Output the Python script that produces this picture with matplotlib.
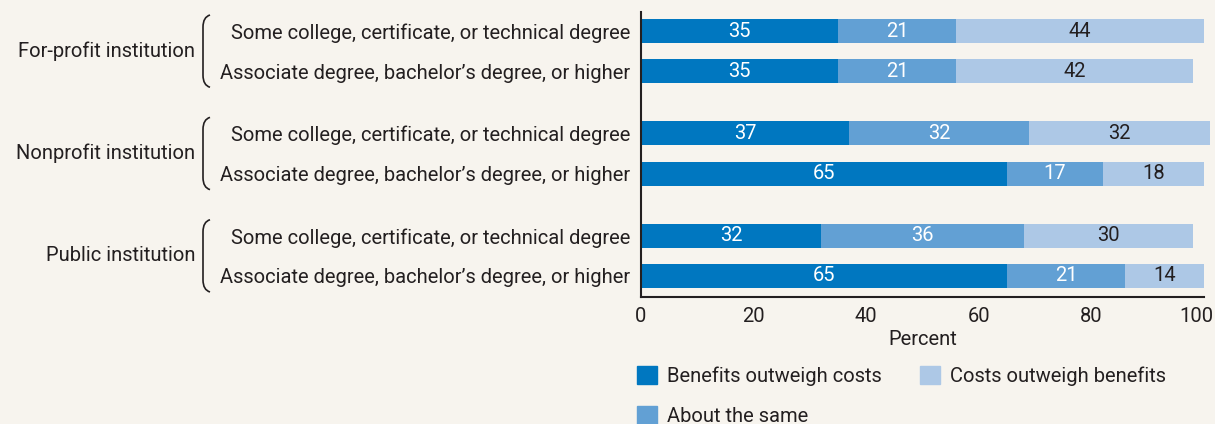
import matplotlib.pyplot as plt
from matplotlib.patches import Patch, PathPatch
from matplotlib.path import Path
from matplotlib.transforms import blended_transform_factory, offset_copy

plt.rcParams['font.family'] = ['Roboto', 'DejaVu Sans']

# data
groups = ['For-profit institution', 'Nonprofit institution', 'Public institution']
levels = ['Some college, certificate, or technical degree',
          'Associate degree, bachelor\u2019s degree, or higher']
series = ['Benefits outweigh costs', 'About the same', 'Costs outweigh benefits']
benefits = [35, 35, 37, 65, 32, 65]
same = [21, 21, 32, 17, 36, 21]
costs = [44, 42, 32, 18, 30, 14]
colors = ['#0077c0', '#62a0d4', '#adc8e6']
bg = '#f7f4ee'
txt = '#231f20'
fs = 14.5

fig = plt.figure(figsize=(12.15, 4.24), dpi=100, facecolor=bg)
ax = fig.add_axes([641 / 1215, 1 - 297 / 424, (1204 - 641) / 1215, (297 - 12) / 424])
ax.set_facecolor(bg)

gap = 1.55
ypos = []
for g in range(len(groups)):
    ypos += [g * (1 + gap), g * (1 + gap) + 1]

vals = [benefits, same, costs]
left = [0] * len(ypos)
for i, v in enumerate(vals):
    bars = ax.barh(ypos, v, left=left, height=0.6, color=colors[i], label=series[i], clip_on=False)
    for b, val, l in zip(bars, v, left):
        ax.text(l + val / 2, b.get_y() + b.get_height() / 2, str(val), ha='center', va='center',
                fontsize=fs, color='white' if i < 2 else txt)
    left = [a + b for a, b in zip(left, v)]

ax.set_xlim(0, 100)
ax.set_ylim(ypos[-1] + 0.525, ypos[0] - 0.475)
ax.set_yticks(ypos)
ax.set_yticklabels(levels * len(groups), fontsize=fs, color=txt)
ax.set_xticks([0, 20, 40, 60, 80, 100])
ax.tick_params(axis='both', length=0, labelsize=fs, labelcolor=txt)
ax.tick_params(axis='y', pad=8)
ax.tick_params(axis='x', pad=7)
ax.set_xlabel('Percent', fontsize=fs, color=txt, labelpad=3)
for s in ['top', 'right']:
    ax.spines[s].set_visible(False)
for s in ['left', 'bottom']:
    ax.spines[s].set_linewidth(1.5)
    ax.spines[s].set_color(txt)

# pull the "100" label in a little so it stays on the canvas
last = ax.get_xticklabels()[-1]
last.set_transform(offset_copy(last.get_transform(), fig=fig, x=-8, units='dots'))

# group braces and labels
tr = blended_transform_factory(ax.transAxes, ax.transData)
x0 = -(641 - 203) / 563
dx = 7 / 563
for g, name in enumerate(groups):
    top = ypos[2 * g] - 0.4
    bot = ypos[2 * g + 1] + 0.4
    verts = [(x0 + dx, top), (x0, top + 0.05), (x0, top + 0.3),
             (x0, bot - 0.3),
             (x0, bot - 0.05), (x0 + dx, bot)]
    codes = [Path.MOVETO, Path.CURVE3, Path.CURVE3, Path.LINETO, Path.CURVE3, Path.CURVE3]
    ax.add_patch(PathPatch(Path(verts, codes), transform=tr, fill=False, lw=1.2,
                           edgecolor=txt, clip_on=False))
    ax.text(x0 - 8 / 563, (top + bot) / 2, name, transform=tr, ha='right', va='center',
            fontsize=fs, color=txt)

# legend, two columns placed separately
handles = [Patch(color=colors[i], label=series[i]) for i in range(3)]
kw = dict(loc='upper left', frameon=False, fontsize=fs, handlelength=1.0, handleheight=1.0,
          handletextpad=0.5, labelspacing=1.0, borderpad=0, borderaxespad=0, labelcolor=txt)
fig.legend(handles=[handles[0], handles[1]], bbox_to_anchor=(637 / 1215, 1 - 366 / 424), **kw)
fig.legend(handles=[handles[2]], bbox_to_anchor=(920 / 1215, 1 - 366 / 424), **kw)

fig.savefig('out.png', dpi=100, facecolor=bg)
